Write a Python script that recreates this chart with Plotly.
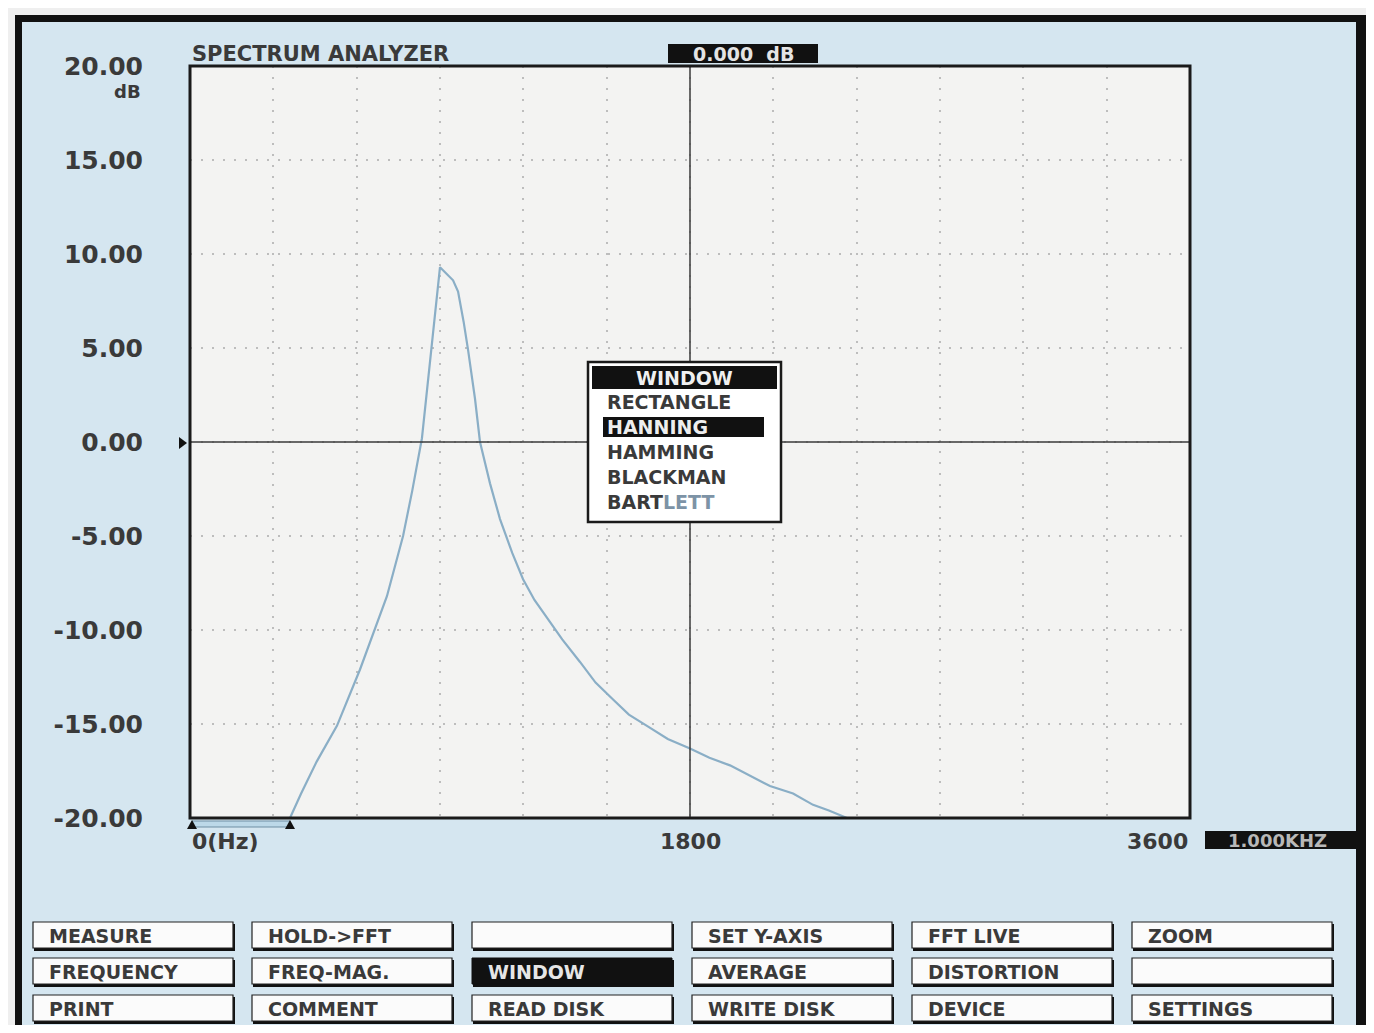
import plotly.graph_objects as go

# ---------------- data ----------------
freq_hz = [360, 400, 456, 529, 612, 660, 709, 767, 800, 835, 850, 871, 886, 900,
           947, 965, 985, 1001, 1026, 1044, 1080, 1116, 1160, 1199, 1240, 1284,
           1340, 1404, 1460, 1523, 1580, 1645, 1720, 1800, 1870, 1944, 2010,
           2088, 2171, 2243, 2300, 2365]
level_db = [-20.0, -18.7, -17.0, -15.1, -12.1, -10.2, -8.2, -5.0, -2.6, 0.2, 2.3,
            4.9, 7.2, 9.3, 8.6, 8.0, 6.4, 4.9, 2.3, 0.0, -2.2, -4.1, -5.9, -7.3,
            -8.4, -9.3, -10.5, -11.7, -12.8, -13.7, -14.5, -15.1, -15.8, -16.3,
            -16.8, -17.2, -17.7, -18.3, -18.7, -19.3, -19.6, -20.0]

y_tick_vals = [20, 15, 10, 5, 0, -5, -10, -15, -20]
y_tick_labels = ["20.00", "15.00", "10.00", "5.00", "0.00", "-5.00", "-10.00", "-15.00", "-20.00"]
x_tick_vals = [0, 1800, 3600]
x_tick_labels = ["0(Hz)", "1800", "3600"]

window_items = ["RECTANGLE", "HANNING", "HAMMING", "BLACKMAN", "BART<span style='color:#7d93a6'>LETT</span>"]
selected_window = "HANNING"

button_rows = [
    ["MEASURE", "HOLD-&gt;FFT", "", "SET Y-AXIS", "FFT LIVE", "ZOOM"],
    ["FREQUENCY", "FREQ-MAG.", "WINDOW", "AVERAGE", "DISTORTION", ""],
    ["PRINT", "COMMENT", "READ DISK", "WRITE DISK", "DEVICE", "SETTINGS"],
]
active_button = "WINDOW"

# ---------------- layout helpers ----------------
# page body has an 8px margin; figure sized so page is 1374x1033
OFF = 8
W, H = 1374 - 2 * OFF, 1033 - 2 * OFF
# plot area in page (reference) pixel coordinates
L, R, T, B = 190, 1190, 66, 818


def px(x):
    return (x - L) / (R - L)


def py(y):
    return (B - y) / (B - T)


FONT = "DejaVu Sans"
TXT = "#3a3a3a"
BLUE = "#d5e6f0"
shapes = []
annotations = []


def rect(x0, y0, x1, y1, fill, line="rgba(0,0,0,0)", lw=0, layer="below"):
    shapes.append(dict(type="rect", xref="paper", yref="paper",
                       x0=px(x0), x1=px(x1), y0=py(y1), y1=py(y0),
                       fillcolor=fill, line=dict(color=line, width=lw), layer=layer))


def text(x, y, s, size, color=TXT, xanchor="left", bold=True, bg=None):
    a = dict(xref="paper", yref="paper", x=px(x), y=py(y), text=s, showarrow=False,
             xanchor=xanchor, yanchor="middle",
             font=dict(family=FONT, size=size, color=color, weight="bold" if bold else "normal"))
    if bg:
        a["bgcolor"] = bg
    annotations.append(a)


# outer frame and panel
rect(15, 15, 1368, 1040, "#111111")
rect(22, 22, 1356, 1027, BLUE)
# plot area background
rect(L, T, R, B, "#f3f3f2")

# ---------------- figure ----------------
fig = go.Figure()
fig.add_trace(go.Scatter(x=freq_hz, y=level_db, mode="lines",
                         line=dict(color="#8aaec6", width=2.2), hoverinfo="skip",
                         showlegend=False))

# crosshair & plot frame (above)
shapes.append(dict(type="line", xref="x", yref="y", x0=x_tick_vals[1], x1=x_tick_vals[1],
                   y0=-20, y1=20, line=dict(color="#3a3a3a", width=1.5), layer="above"))
shapes.append(dict(type="line", xref="x", yref="y", x0=0, x1=3600, y0=0, y1=0,
                   line=dict(color="#3a3a3a", width=1.5), layer="above"))
shapes.append(dict(type="rect", xref="paper", yref="paper", x0=0, x1=1, y0=0, y1=1,
                   line=dict(color="#1a1a1a", width=3), fillcolor="rgba(0,0,0,0)", layer="above"))

# 0 dB marker triangle at left
shapes.append(dict(type="path", xref="paper", yref="paper",
                   path=f"M {px(179)},{py(437)} L {px(187)},{py(443)} L {px(179)},{py(449)} Z",
                   fillcolor="#111", line=dict(color="#111", width=0), layer="above"))

# bottom range bar with triangles
rect(192, 821, 290, 827, "#bcd8e8", "#6f8ea3", 1, layer="above")
for xx in (192, 290):
    shapes.append(dict(type="path", xref="paper", yref="paper",
                       path=f"M {px(xx-5)},{py(829)} L {px(xx)},{py(820)} L {px(xx+5)},{py(829)} Z",
                       fillcolor="#111", line=dict(width=0), layer="above"))

# title and top readout
text(190, 54, "SPECTRUM ANALYZER", 21)
rect(668, 44, 818, 63, "#111111", layer="above")
text(743, 54, "0.000&nbsp;&nbsp;dB", 19, color="#e4e4e4", xanchor="center")

# dB unit under top tick
text(143, 92, "dB", 18, xanchor="right")

# x-axis labels
anchors = ["left", "center", "right"]
for v, s, a in zip(x_tick_vals, x_tick_labels, anchors):
    annotations.append(dict(xref="x", yref="paper", x=v, y=py(841), text=s, showarrow=False,
                            xanchor=a, yanchor="middle",
                            font=dict(family=FONT, size=22, color=TXT, weight="bold")))
rect(1205, 831, 1360, 849, "#111111", layer="above")
text(1226, 840, "1.000KHZ", 18, color="#b8b8b8")

# WINDOW popup menu
rect(588, 362, 781, 522, "#ffffff", "#1a1a1a", 2.5, layer="above")
rect(592, 366, 777, 389, "#111111", layer="above")
text(684, 378, "WINDOW", 19, color="#f0f0f0", xanchor="center")
for i, item in enumerate(window_items):
    yy = 402 + 25 * i
    if item == selected_window:
        rect(603, yy - 10, 764, yy + 10, "#111111", layer="above")
        text(605, yy, item, 19, color="#eeeeee")
    else:
        text(605, yy, item, 19, color="#3a3a3a")

# bottom buttons
col_x = [33, 252, 472, 692, 912, 1132]
row_y = [922, 958, 995]
for r, row in enumerate(button_rows):
    for c, lab in enumerate(row):
        x0, y0 = col_x[c], row_y[r]
        x1, y1 = x0 + 200, y0 + 26
        rect(x0 + 1, y0 + 2, x1 + 2, y1 + 3, "#111111", layer="above")
        if lab == active_button:
            rect(x0, y0, x1, y1, "#111111", "#111111", 1, layer="above")
            text(x0 + 14, (y0 + y1) / 2 + 1, lab, 19, color="#e6e6e6")
        else:
            rect(x0, y0, x1, y1, "#fbfbfb", "#222222", 1.2, layer="above")
            if lab:
                text(x0 + 14, (y0 + y1) / 2 + 1, lab, 19, color="#3a3a3a")

fig.update_layout(
    width=W, height=H,
    margin=dict(l=L - OFF, r=W - (R - OFF), t=T - OFF, b=H - (B - OFF), pad=0),
    paper_bgcolor="#efefef",
    plot_bgcolor="rgba(0,0,0,0)",
    showlegend=False,
    shapes=shapes,
    annotations=annotations,
    xaxis=dict(range=[0, 3600], tick0=0, dtick=300, showgrid=True,
               gridcolor="#bdbdbd", griddash="2px,9px", gridwidth=1.5,
               showticklabels=False, zeroline=False, showline=False, ticks="",
               fixedrange=True),
    yaxis=dict(range=[-20, 20], tickmode="array", tickvals=y_tick_vals, ticktext=y_tick_labels,
               showgrid=True, gridcolor="#bdbdbd", griddash="2px,9px", gridwidth=1.5,
               zeroline=False, showline=False, ticks="", ticklabelstandoff=46,
               tickfont=dict(family=FONT, size=25, color=TXT, weight="bold"),
               fixedrange=True),
)

fig.write_html("out.html", config={"displayModeBar": False})
